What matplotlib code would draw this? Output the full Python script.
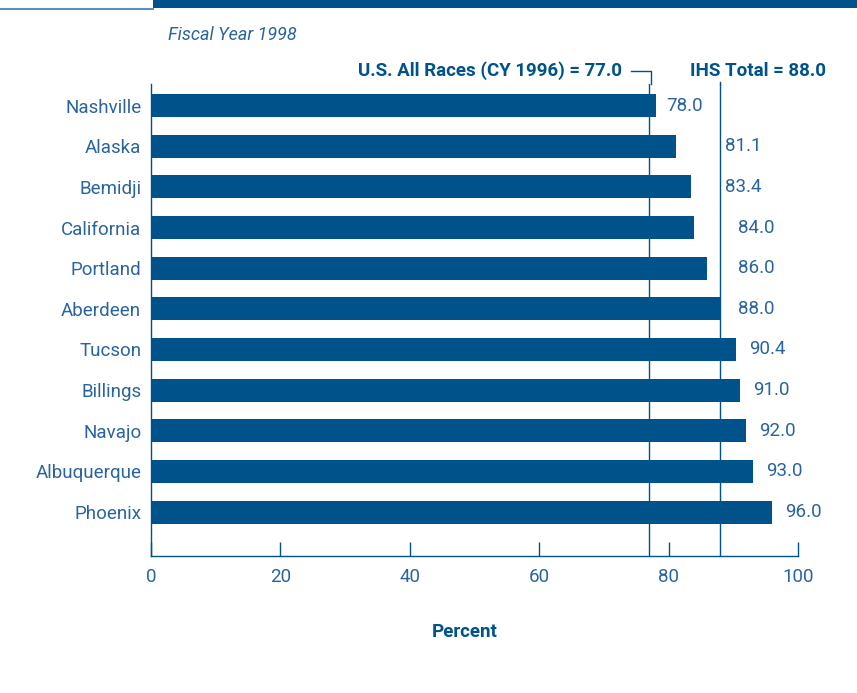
import matplotlib.pyplot as plt
from matplotlib.lines import Line2D
from matplotlib.patches import Rectangle

areas = ["Nashville", "Alaska", "Bemidji", "California", "Portland", "Aberdeen",
         "Tucson", "Billings", "Navajo", "Albuquerque", "Phoenix"]
values = [78.0, 81.1, 83.4, 84.0, 86.0, 88.0, 90.4, 91.0, 92.0, 93.0, 96.0]
us_all = 77.0
ihs_total = 88.0
xticks = [0, 20, 40, 60, 80, 100]

dark = "#00528a"
mid = "#2a64a0"
light = "#5a8fc0"

plt.rcParams['font.family'] = ['Roboto', 'DejaVu Sans']

fig = plt.figure(figsize=(8.57, 6.93), dpi=100)
ax = fig.add_axes([151/857, 1 - 556/693, 647/857, 472/693])

ypos = list(range(len(areas)))
ax.barh(ypos, values, height=0.57, color=dark, zorder=2)
ax.set_ylim(11.08, -0.53)
ax.set_xlim(0, 100)

# reference lines
ax.axvline(us_all, color=dark, lw=1, zorder=1)
ax.axvline(ihs_total, color=dark, lw=1, zorder=1)

# value labels; ones near the IHS line get pushed to its right
for i, v in enumerate(values):
    if v <= 78:
        x = v + 1.7
    elif v < 84:
        x = ihs_total + 0.7
    elif v <= ihs_total:
        x = ihs_total + 2.8
    else:
        x = v + 2.0
    ax.text(x, i, f"{v:.1f}", va="center", ha="left", fontsize=13.5, color=mid)

ax.set_yticks(ypos)
ax.set_yticklabels(areas, fontsize=13.5, color=mid)
ax.set_xticks(xticks)
ax.set_xticklabels([str(t) for t in xticks], fontsize=13.5, color=mid)
ax.tick_params(axis="y", length=0, pad=7)
ax.tick_params(axis="x", direction="in", length=10, width=1, color=dark, pad=9)
for s in ["top", "right"]:
    ax.spines[s].set_visible(False)
for s in ["left", "bottom"]:
    ax.spines[s].set_color(dark)
    ax.spines[s].set_linewidth(1)

ax.set_xlabel("Percent", fontsize=13.5, fontweight="bold", color=dark)
ax.xaxis.set_label_coords(314/647, -67/472)

# header labels for reference lines
fig.text(622/857, 1 - 71/693, "U.S. All Races (CY 1996) = 77.0", ha="right", va="center",
         fontsize=13.5, fontweight="bold", color=dark)
fig.text(690/857, 1 - 71/693, "IHS Total = 88.0", ha="left", va="center",
         fontsize=13.5, fontweight="bold", color=dark)
fig.add_artist(Line2D([631/857, 651/857, 651/857], [1 - 71/693, 1 - 71/693, 1 - 84/693],
                      color=dark, lw=1))
fig.add_artist(Line2D([720/857, 720/857], [1 - 82/693, 1 - 84/693], color=dark, lw=1))

fig.text(168/857, 1 - 35/693, "Fiscal Year 1998", ha="left", va="center",
         fontsize=13, style="italic", color=mid)

# top decoration
fig.add_artist(Rectangle((153/857, 1 - 8/693), 1 - 153/857, 8/693,
                         transform=fig.transFigure, color=dark, lw=0))
fig.add_artist(Line2D([0, 153/857], [1 - 8.5/693, 1 - 8.5/693], color=light, lw=1.5))

fig.savefig("out.png", dpi=100)
